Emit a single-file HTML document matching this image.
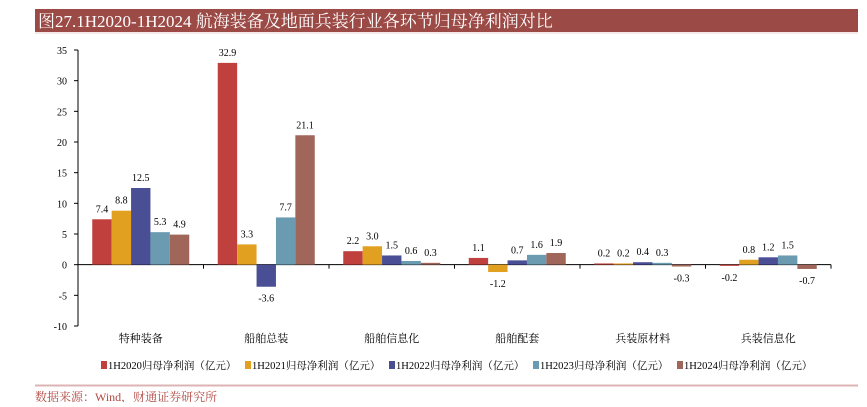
<!DOCTYPE html>
<html><head><meta charset="utf-8"><style>
body{margin:0;background:#fff;width:867px;height:402px;overflow:hidden;font-family:"Liberation Serif","Noto Serif CJK SC",serif;}
</style></head><body>
<svg width="867" height="402" xmlns="http://www.w3.org/2000/svg">
<rect x="35" y="9" width="823" height="23" fill="#9c4a46"/>
<text x="38" y="27" font-size="17" fill="#fff" font-family="Liberation Serif,Noto Serif CJK SC,serif">图27.1H2020-1H2024 航海装备及地面兵装行业各环节归母净利润对比</text>
<line x1="35" y1="33" x2="858" y2="33" fill="none" stroke="#e8d0d0" stroke-width="1"/>
<g id="plot"></g>
<g id="legend"></g>
<line x1="35" y1="385.5" x2="858" y2="385.5" stroke="#dcb4b4" stroke-width="2"/>
<text x="35" y="401" font-size="12" fill="#b04a44" font-family="Liberation Serif,Noto Serif CJK SC,serif">数据来源：Wind，财通证券研究所</text>
</svg>
<script>
const categories=["特种装备","船舶总装","船舶信息化","船舶配套","兵装原材料","兵装信息化"];
const seriesNames=["1H2020归母净利润（亿元）","1H2021归母净利润（亿元）","1H2022归母净利润（亿元）","1H2023归母净利润（亿元）","1H2024归母净利润（亿元）"];
const s2020=[7.4,32.9,2.2,1.1,0.2,-0.2];
const s2021=[8.8,3.3,3.0,-1.2,0.2,0.8];
const s2022=[12.5,-3.6,1.5,0.7,0.4,1.2];
const s2023=[5.3,7.7,0.6,1.6,0.3,1.5];
const s2024=[4.9,21.1,0.3,1.9,-0.3,-0.7];
const yTicks=[35,30,25,20,15,10,5,0,-5,-10];
const series=[s2020,s2021,s2022,s2023,s2024];
const colors=["#c0403d","#e2a021","#4a4f95","#6a9bb0","#a0665a"];
const NS="http://www.w3.org/2000/svg";
const plot=document.getElementById('plot'),leg=document.getElementById('legend');
const x0=78,x1=831,yTop=50,yBot=326,yMin=-10,yMax=35;
const y=v=>yTop+(yMax-v)/(yMax-yMin)*(yBot-yTop);
const gw=(x1-x0)/categories.length,bw=19.4;
function mk(t,a,p){const e=document.createElementNS(NS,t);for(const k in a)e.setAttribute(k,a[k]);(p||plot).appendChild(e);return e;}
let ax=mk('line',{x1:x0,y1:yTop,x2:x0,y2:yBot,stroke:'#000','stroke-width':1});


yTicks.forEach(t=>{
  mk('line',{x1:x0-4,y1:y(t),x2:x0,y2:y(t),stroke:'#000'});
  const tx=mk('text',{x:x0-11,y:y(t)+4,'font-size':10,'text-anchor':'end'});tx.textContent=t;
  
  
});
let xa=mk('line',{x1:x0,y1:y(0),x2:x1,y2:y(0),stroke:'#000'});


categories.forEach((c,i)=>{
  const cx=x0+gw*(i+0.5);
  mk('line',{x1:x0+gw*(i+1),y1:y(0),x2:x0+gw*(i+1),y2:y(0)+4,stroke:'#000'});
  const tl=mk('text',{x:cx,y:342,'font-size':11,'text-anchor':'middle'});tl.textContent=c;
  
  
  series.forEach((s,j)=>{
    const v=s[i],bx=cx-bw*2.5+bw*j;
    const r=mk('rect',{x:bx,y:Math.min(y(v),y(0)),width:bw,height:Math.abs(y(v)-y(0)),fill:colors[j]});
    
    
    const lt=mk('text',{x:bx+bw/2,y:v>=0?y(v)-7:y(v)+15,'font-size':10,'text-anchor':'middle'});lt.textContent=v.toFixed(1);
    
    
  });
});
const lx=[100,186,272,358,444];
seriesNames.forEach((n,j)=>{
  const lxp=101+j*144;
  const r=mk('rect',{x:lxp,y:361,width:6,height:8,fill:colors[j]},leg);
  
  
  const t=mk('text',{x:lxp+7,y:369,'font-size':10.5},leg);t.textContent=n;
  
  
});
</script>
</body></html>
